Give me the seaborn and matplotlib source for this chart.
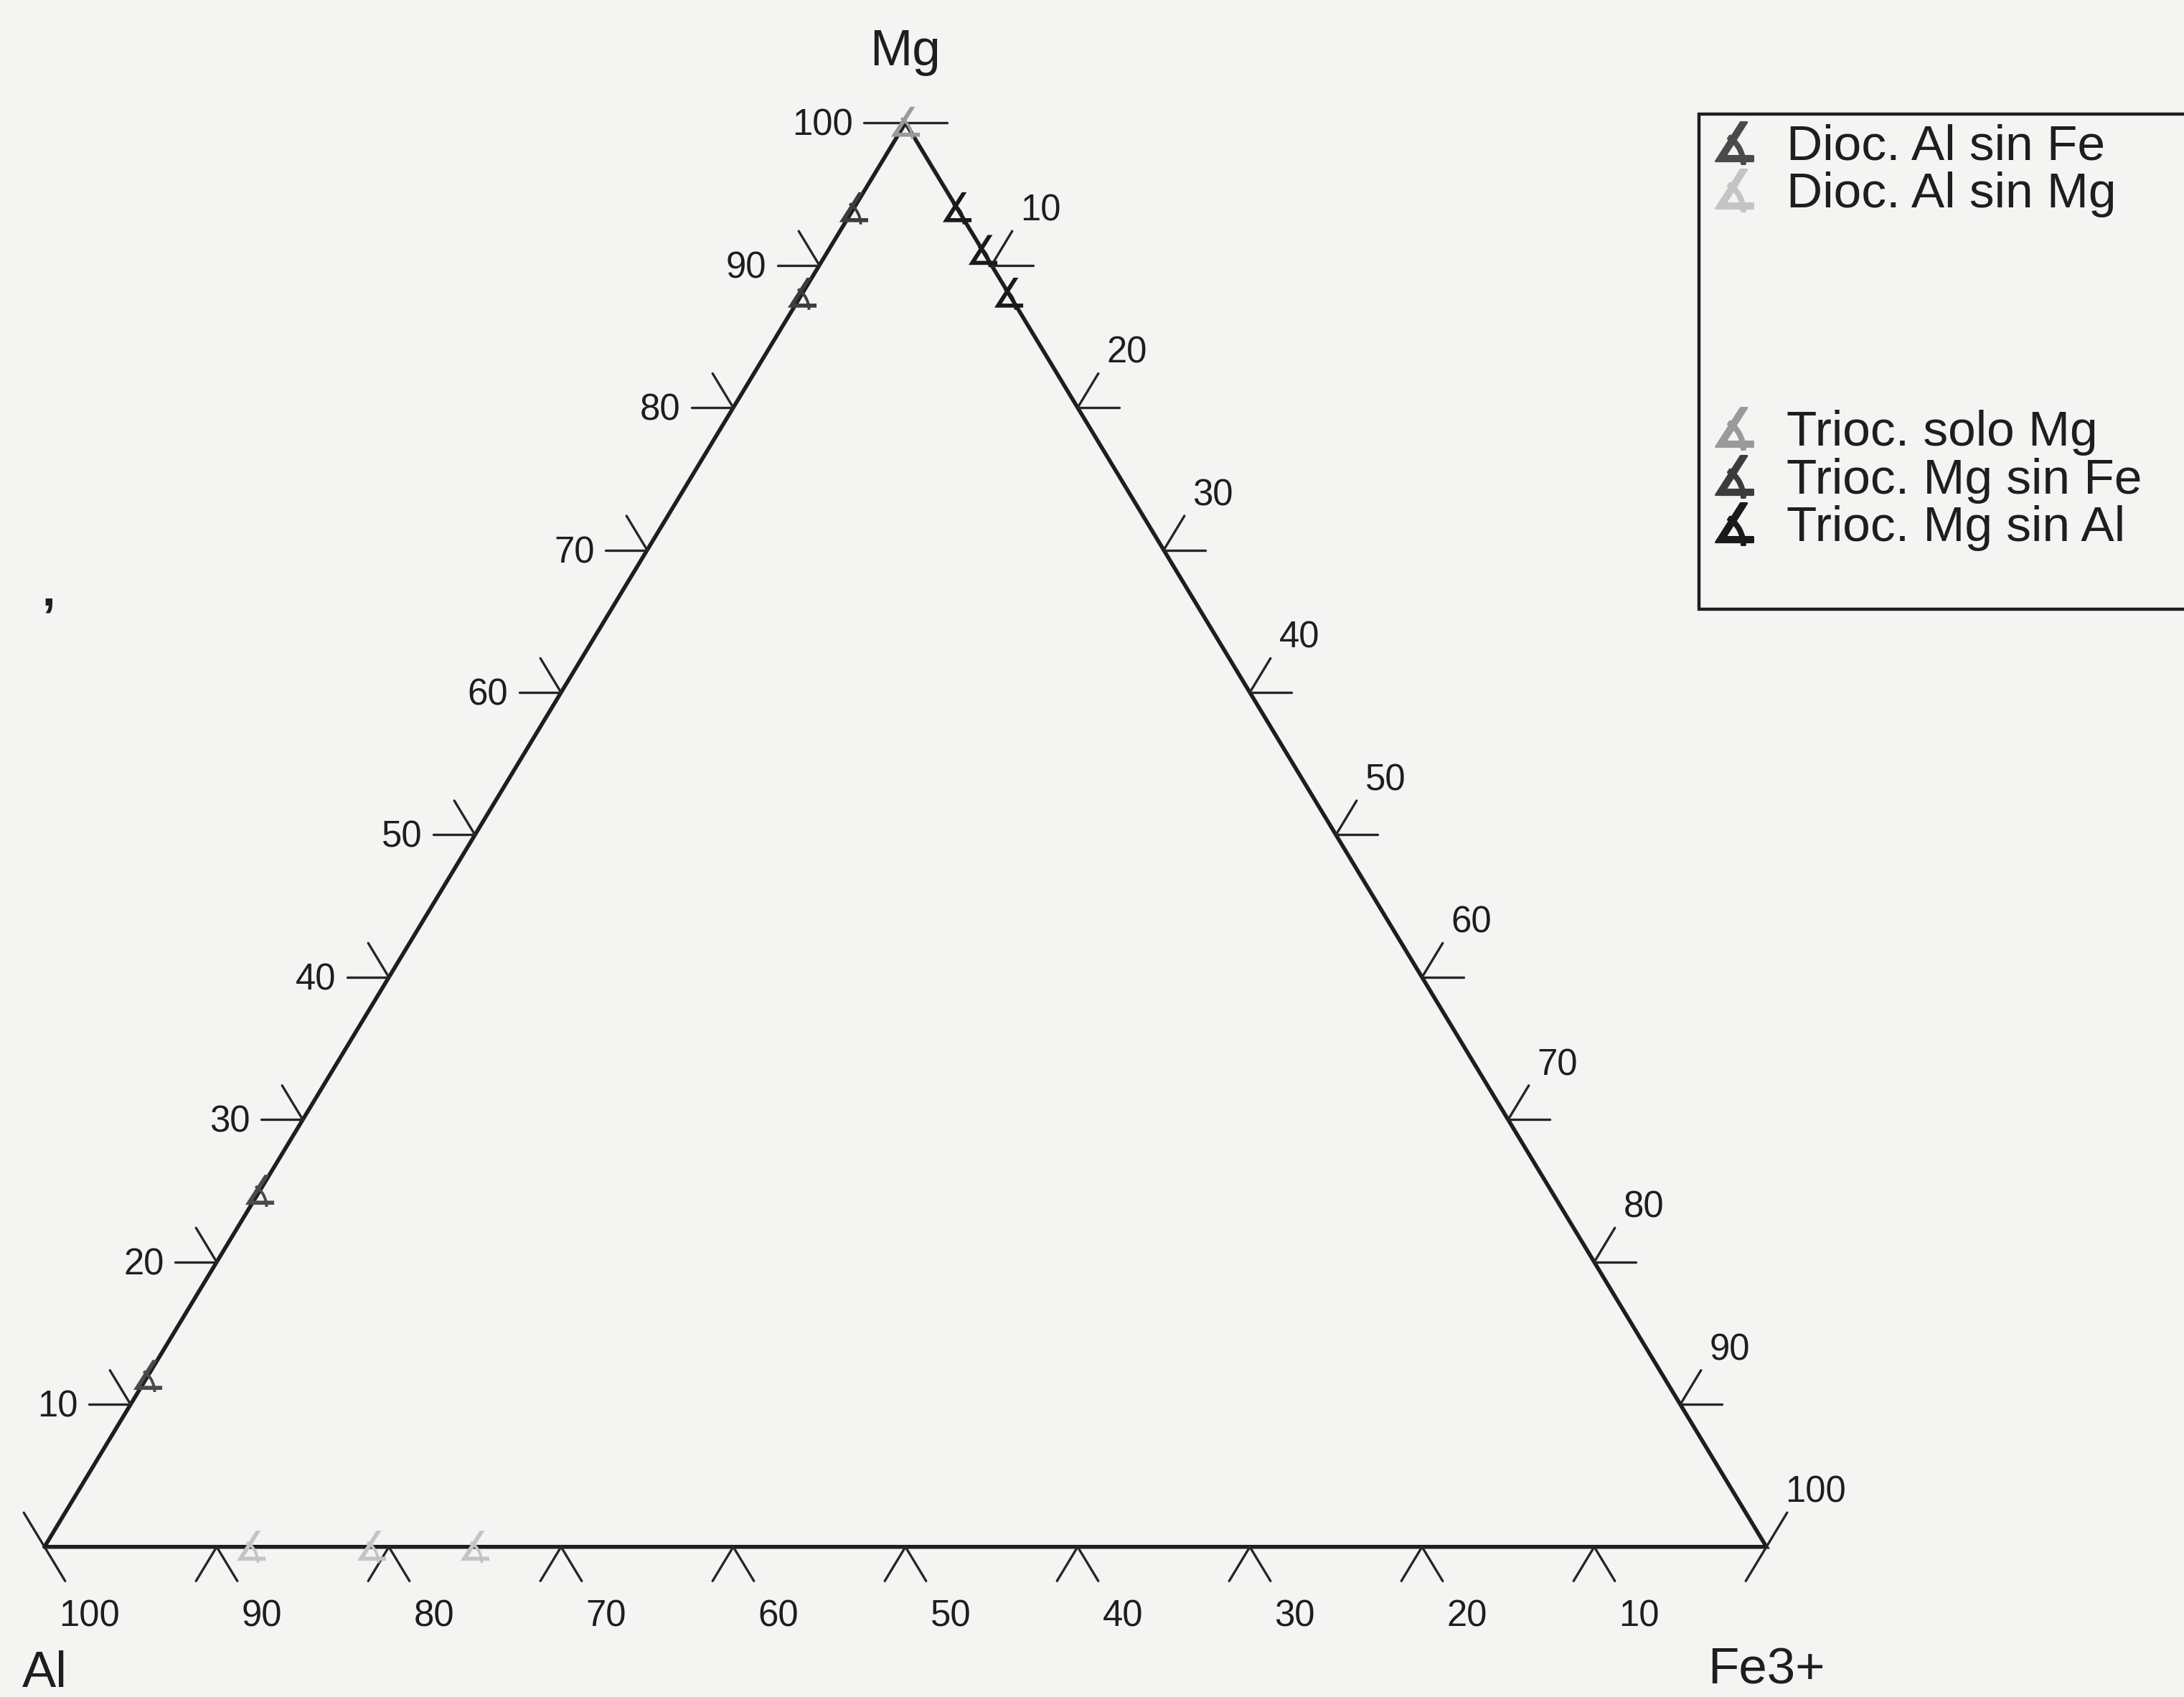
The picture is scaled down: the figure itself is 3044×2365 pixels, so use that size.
import numpy as np
import matplotlib.pyplot as plt
import seaborn as sns
import pandas as pd
from matplotlib.lines import Line2D

# Ternary data (Al, Fe3+, Mg) in %
dioc_al_sin_fe_al = [75, 88]
dioc_al_sin_fe_fe = [0, 0]
dioc_al_sin_fe_mg = [25, 12]

dioc_al_sin_mg_al = [88, 81, 75]
dioc_al_sin_mg_fe = [12, 19, 25]
dioc_al_sin_mg_mg = [0, 0, 0]

trioc_solo_mg_al = [0]
trioc_solo_mg_fe = [0]
trioc_solo_mg_mg = [100]

trioc_mg_sin_fe_al = [6, 12]
trioc_mg_sin_fe_fe = [0, 0]
trioc_mg_sin_fe_mg = [94, 88]

trioc_mg_sin_al_al = [0, 0, 0]
trioc_mg_sin_al_fe = [6, 9, 12]
trioc_mg_sin_al_mg = [94, 91, 88]

series_names = ['Dioc. Al sin Fe', 'Dioc. Al sin Mg', 'Trioc. solo Mg',
                'Trioc. Mg sin Fe', 'Trioc. Mg sin Al']
series_colors = ['#4a4a4a', '#c4c4c4', '#9a9a9a', '#3c3c3c', '#1a1a1a']
tick_values = [0, 10, 20, 30, 40, 50, 60, 70, 80, 90, 100]

h = np.sqrt(3) / 2


def tern(al, fe, mg):
    al = np.asarray(al, float)
    fe = np.asarray(fe, float)
    mg = np.asarray(mg, float)
    s = al + fe + mg
    return (fe + mg / 2) / s, mg * h / s


rows = []
data = [(dioc_al_sin_fe_al, dioc_al_sin_fe_fe, dioc_al_sin_fe_mg),
        (dioc_al_sin_mg_al, dioc_al_sin_mg_fe, dioc_al_sin_mg_mg),
        (trioc_solo_mg_al, trioc_solo_mg_fe, trioc_solo_mg_mg),
        (trioc_mg_sin_fe_al, trioc_mg_sin_fe_fe, trioc_mg_sin_fe_mg),
        (trioc_mg_sin_al_al, trioc_mg_sin_al_fe, trioc_mg_sin_al_mg)]
for name, (a, f, m) in zip(series_names, data):
    x, y = tern(a, f, m)
    for xi, yi in zip(x, y):
        rows.append({'x': xi, 'y': yi, 'serie': name})
df = pd.DataFrame(rows)

sns.set_theme(style='white')
plt.rcParams['font.family'] = ['Liberation Sans', 'DejaVu Sans']
plt.rcParams['mathtext.fontset'] = 'dejavusans'

bg = '#f4f4f3'
ink = '#1e1e1e'
fig = plt.figure(figsize=(15.22, 11.825), dpi=200, facecolor=bg)
ax = fig.add_axes([0, 0, 1, 1])
ax.set_facecolor(bg)
ax.axis('off')

# pixel-to-data mapping of the scan
px_x = 2400.0
px_y = 2288.7
ax.set_xlim(-62 / px_x, (3044 - 62) / px_x)
ax.set_ylim(-(2365 - 2156) / px_y, h + 171 / px_y)

# triangle
tri_x, tri_y = tern([100, 0, 0, 100], [0, 100, 0, 0], [0, 0, 100, 0])
ax.plot(tri_x, tri_y, color=ink, lw=2.0, solid_joinstyle='miter')

t = 0.024
tk = dict(color='#262626', lw=1.2)
fs_tick = 18.3
for v in tick_values:
    f = v / 100
    # left edge: Mg
    ex, ey = f / 2, f * h
    if v > 0:
        ax.plot([ex, ex - t], [ey, ey], **tk)
        ax.text(ex - t - 16 / px_x, ey - 4 / px_y, str(v), ha='right', va='center',
                fontsize=fs_tick, color=ink)
    if v < 100:
        ax.plot([ex, ex - t / 2], [ey, ey + t * h], **tk)
    # right edge: Fe3+
    ex, ey = 0.5 + f / 2, h * (1 - f)
    if v < 100:
        ax.plot([ex, ex + t], [ey, ey], **tk)
    if v > 0:
        tx, ty = ex + t / 2, ey + t * h
        ax.plot([ex, tx], [ey, ty], **tk)
        ax.text(tx + 40 / px_x, ty + 28 / px_y, str(v), ha='center', va='center',
                fontsize=fs_tick, color=ink)
    # bottom edge: Al
    ex, ey = 1 - f, 0
    if v < 100:
        ax.plot([ex, ex - t / 2], [ey, ey - t * h], **tk)
    if v > 0:
        tx, ty = ex + t / 2, ey - t * h
        ax.plot([ex, tx], [ey, ty], **tk)
        ax.text(tx + 34 / px_x, ty - 50 / px_y, str(v), ha='center', va='center',
                fontsize=fs_tick, color=ink)

# vertex labels
fs_big = 25.5
ax.text(0.5, h + 0.043, 'Mg', ha='center', va='center', fontsize=fs_big, color=ink)
ax.text(0.0, -0.0775, 'Al', ha='center', va='center', fontsize=fs_big, color=ink)
ax.text(1.0, -0.0755, 'Fe3+', ha='center', va='center', fontsize=fs_big, color=ink)
ax.text(0.0025, 0.58, ',', ha='center', va='center', fontsize=24,
        fontweight='bold', color=ink)

marker = r'$\measuredangle$'
palette = dict(zip(series_names, series_colors))
sns.scatterplot(data=df, x='x', y='y', hue='serie', palette=palette,
                marker=marker, s=260, linewidth=0, legend=False, ax=ax, zorder=5)

# legend with the gap rows of the original
handles = []
labels = []
blank = Line2D([], [], linestyle='none')
order = [0, 1, None, None, None, None, 2, 3, 4, None]
for i in order:
    if i is None:
        handles.append(blank)
        labels.append(' ')
    else:
        handles.append(Line2D([], [], linestyle='none', marker=marker,
                              markersize=21, color=series_colors[i]))
        labels.append(series_names[i])
leg = fig.legend(handles, labels, loc='upper left',
                 bbox_to_anchor=(2368 / 3044, 1 - 159 / 2365, 0.25, 0),
                 mode='expand', borderaxespad=0, fontsize=25, frameon=True,
                 fancybox=False, borderpad=0.2, labelspacing=0.035,
                 handlelength=1.0, handletextpad=0.55)
leg.get_frame().set_edgecolor(ink)
leg.get_frame().set_linewidth(1.6)
leg.get_frame().set_facecolor(bg)
leg.get_frame().set_alpha(1)
for txt in leg.get_texts():
    txt.set_color(ink)

fig.savefig('out.png', dpi=200, facecolor=bg)
